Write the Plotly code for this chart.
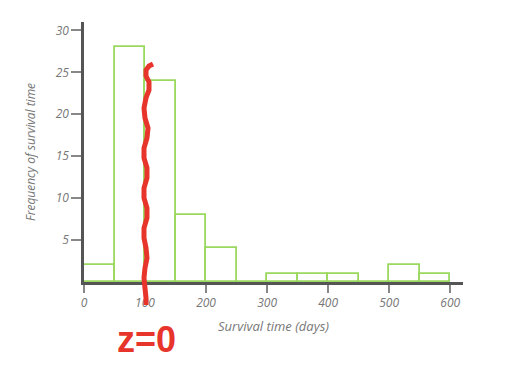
import plotly.graph_objects as go

# Data
bin_starts = [0, 50, 100, 150, 200, 250, 300, 350, 400, 450, 500, 550]
counts = [2, 28, 24, 8, 4, 0, 1, 1, 1, 0, 2, 1]
bin_width = 50
x_ticks = [0, 100, 200, 300, 400, 500, 600]
y_ticks = [5, 10, 15, 20, 25, 30]

W, H = 510, 380
L, R, T, B = 84, 47, 22, 98
pw, ph = W - L - R, H - T - B

green = "#9bd85e"
axis_col = "#555555"
text_col = "#777777"
font_fam = "Open Sans"

fig = go.Figure()
fig.add_trace(go.Bar(
    x=[s + bin_width / 2 for s in bin_starts],
    y=counts,
    width=bin_width,
    marker=dict(color="rgba(255,255,255,0)", line=dict(color=green, width=1.8)),
    showlegend=False,
    hoverinfo="skip",
))

# red hand-drawn annotation (pixel points of the squiggle)
squiggle_px = [(153, 64), (149, 66), (146, 70), (146, 76), (149, 82), (149, 90),
               (146, 98), (144, 108), (145, 118), (148, 128), (147, 138), (144, 148),
               (144, 158), (147, 168), (147, 178), (144, 188), (144, 198), (147, 208),
               (147, 218), (144, 228), (144, 238), (146, 248), (147, 258), (145, 268),
               (144, 278), (145, 288), (146, 298), (146, 305)]

def to_paper(px, py):
    return (px - L) / pw, (H - B - py) / ph

pts = [to_paper(px, py) for px, py in squiggle_px]
path = "M " + " L ".join(f"{x:.4f},{y:.4f}" for x, y in pts)
fig.add_shape(type="path", path=path, xref="paper", yref="paper",
              line=dict(color="#e8352b", width=5), layer="above")

zx, zy = to_paper(146, 339)
fig.add_annotation(text="z=0", x=zx, y=zy, xanchor="center", yanchor="middle",
                   xref="paper", yref="paper", showarrow=False,
                   font=dict(family="Liberation Sans", size=36, color="#e8352b",
                             weight="bold", style="normal"))

fig.update_layout(
    width=W, height=H,
    margin=dict(l=L, r=R, t=T, b=B),
    plot_bgcolor="white", paper_bgcolor="white",
    bargap=0,
    font=dict(family=font_fam, color=text_col, size=12, style="italic"),
)
fig.update_xaxes(
    range=[0, 621], showgrid=False, zeroline=False,
    showline=True, linecolor=axis_col, linewidth=2.5,
    tickmode="array", tickvals=x_ticks, ticktext=[str(v) for v in x_ticks],
    ticks="outside", ticklen=8, tickwidth=1.5, tickcolor="#888888",
    tickfont=dict(family=font_fam, size=12, color=text_col, style="italic"),
    title=dict(text="Survival time (days)", standoff=12,
               font=dict(family=font_fam, size=13, color=text_col, style="italic")),
)
fig.update_yaxes(
    range=[0, 31], showgrid=False, zeroline=False,
    showline=True, linecolor=axis_col, linewidth=2.5,
    tickmode="array", tickvals=y_ticks, ticktext=[str(v) for v in y_ticks],
    ticks="outside", ticklen=10, tickwidth=1.5, tickcolor="#888888",
    tickfont=dict(family=font_fam, size=12, color=text_col, style="italic"),
    title=dict(text="Frequency of survival time", standoff=18,
               font=dict(family=font_fam, size=12, color=text_col, style="italic")),
)

fig.write_html("out.html")
